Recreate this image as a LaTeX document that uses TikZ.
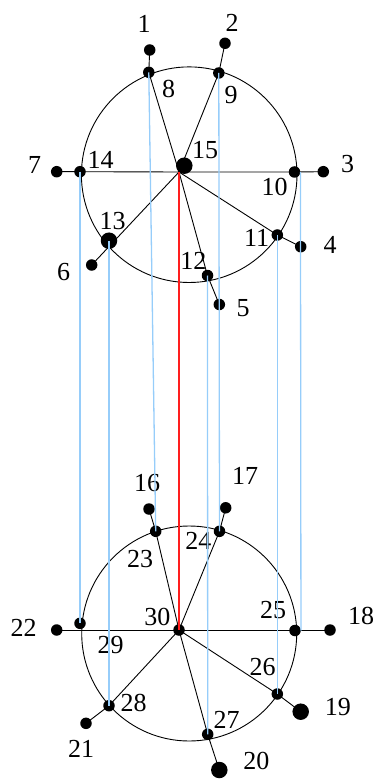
\documentclass[tikz,border=0pt]{standalone}
\usepackage{fontspec}
\setmainfont{Liberation Serif}
\usetikzlibrary{backgrounds}
\definecolor{linkblue}{RGB}{150,205,250}
\definecolor{linkred}{RGB}{255,30,30}

\begin{document}
\begin{tikzpicture}[
  x=1pt, y=-1pt,
  dot/.style    = {circle, fill=black, inner sep=0pt, minimum size=11.5pt},
  bigdot/.style = {dot, minimum size=16.5pt},
  num/.style    = {font=\fontsize{26}{26}\selectfont, inner sep=0pt},
  rim/.style    = {black, line width=0.9pt},
  spoke/.style  = {black, line width=0.9pt},
  link/.style   = {linkblue, line width=1.3pt},
  redlink/.style= {linkred, line width=1.25pt}
]
\useasboundingbox (0,0) rectangle (375,783);

% --- Rueda superior ----------------------------------------------------------
\coordinate (topc)  at (189.2,174.7);
\coordinate (hub15) at (179,172);
\node[dot]    (n1)  at (149.7,50)    {};
\node[dot]    (n2)  at (225,43.3)    {};
\node[dot]    (n3)  at (323.3,171.7) {};
\node[dot]    (n4)  at (300.7,246.7) {};
\node[dot]    (n5)  at (219.3,304.5) {};
\node[dot]    (n6)  at (91.7,265)    {};
\node[dot]    (n7)  at (56.7,171.7)  {};
\node[dot]    (n8)  at (148.8,72.3)  {};
\node[dot]    (n9)  at (218.8,73)    {};
\node[dot]    (n10) at (294.5,172)   {};
\node[dot]    (n11) at (277.3,235)   {};
\node[dot]    (n12) at (207.5,275.5) {};
\node[bigdot] (n13) at (109,240.7)   {};
\node[dot]    (n14) at (80,171.7)    {};
\node[bigdot] (n15) at (184.3,165.7) {};

\node[num] (l1)  at (144,24.2)    {1};
\node[num] (l2)  at (232,23.3)    {2};
\node[num] (l3)  at (347.5,164.5) {3};
\node[num] (l4)  at (330,245)     {4};
\node[num] (l5)  at (243,308)     {5};
\node[num] (l6)  at (63.7,272.5)  {6};
\node[num] (l7)  at (34.5,164.5)  {7};
\node[num] (l8)  at (168.7,88.7)  {8};
\node[num] (l9)  at (231,95)      {9};
\node[num] (l10) at (274.5,187)   {10};
\node[num] (l11) at (256.7,238.3) {11};
\node[num] (l12) at (193.3,261)   {12};
\node[num] (l13) at (112.5,221)   {13};
\node[num] (l14) at (100.5,159.5) {14};
\node[num] (l15) at (205,150)     {15};

% --- Rueda inferior ----------------------------------------------------------
\coordinate (botc) at (189.2,633.5);
\node[dot]    (n16) at (149,509)     {};
\node[dot]    (n17) at (225.7,507.8) {};
\node[dot]    (n18) at (330,630)     {};
\node[bigdot] (n19) at (300.7,711.7) {};
\node[bigdot] (n20) at (219.3,770)   {};
\node[dot]    (n21) at (86,723.3)    {};
\node[dot]    (n22) at (56.7,630)    {};
\node[dot]    (n23) at (155.7,531.3) {};
\node[dot]    (n24) at (219.5,531.3) {};
\node[dot]    (n25) at (295,630.5)   {};
\node[dot]    (n26) at (277.3,694)   {};
\node[dot]    (n27) at (207.7,734.3) {};
\node[dot]    (n28) at (109,705.7)   {};
\node[dot]    (n29) at (80,623.3)    {};
\node[dot]    (n30) at (179,630)     {};

\node[num] (l16) at (147,483.3)   {16};
\node[num] (l17) at (245,476)     {17};
\node[num] (l18) at (361,616.2)   {18};
\node[num] (l19) at (337.8,707.5) {19};
\node[num] (l20) at (256.3,761)   {20};
\node[num] (l21) at (81.2,749.2)  {21};
\node[num] (l22) at (23.7,628.3)  {22};
\node[num] (l23) at (140,558.7)   {23};
\node[num] (l24) at (198.3,540.5) {24};
\node[num] (l25) at (273,610.5)   {25};
\node[num] (l26) at (262.7,667.5) {26};
\node[num] (l27) at (226.7,719.5) {27};
\node[num] (l28) at (133.7,703)   {28};
\node[num] (l29) at (110.7,645.3) {29};
\node[num] (l30) at (157.3,616.5) {30};

% --- Aros y radios (detras de los puntos) -----------------------------------
\begin{scope}[on background layer]
  \draw[rim] (topc) circle[radius=107.8];
  \draw[rim] (botc) circle[radius=107.5];

  \draw[spoke] (hub15) -- (n8.center)  -- (n1.center);
  \draw[spoke] (hub15) -- (n9.center)  -- (n2.center);
  \draw[spoke] (hub15) -- (n10.center) -- (n3.center);
  \draw[spoke] (hub15) -- (n11.center) -- (n4.center);
  \draw[spoke] (hub15) -- (n12.center) -- (n5.center);
  \draw[spoke] (hub15) -- (n6.center);
  \draw[spoke] (hub15) -- (n14.center) -- (n7.center);

  \draw[spoke] (n30.center) -- (n23.center) -- (n16.center);
  \draw[spoke] (n30.center) -- (n24.center) -- (n17.center);
  \draw[spoke] (n30.center) -- (n18.center);
  \draw[spoke] (n30.center) -- (n26.center) -- (n19.center);
  \draw[spoke] (n30.center) -- (n27.center) -- (n20.center);
  \draw[spoke] (n30.center) -- (n28.center) -- (n21.center);
  \draw[spoke] (n30.center) -- (n22.center);
\end{scope}

% --- Enlaces entre ruedas ----------------------------------------------------
\draw[link] (n14.center) -- (n29.center);
\draw[link] (n13.center) -- (n28.center);
\draw[link] (n8.center)  -- (n23.center);
\draw[link] (n12.center) -- (n27.center);
\draw[link] (n9.center)  -- (n24.center);
\draw[link] (n11.center) -- (n26.center);
\draw[link] (n10.east)   -- (n25.east);
\draw[redlink] (hub15) -- (n30.center);

\end{tikzpicture}
\end{document}
